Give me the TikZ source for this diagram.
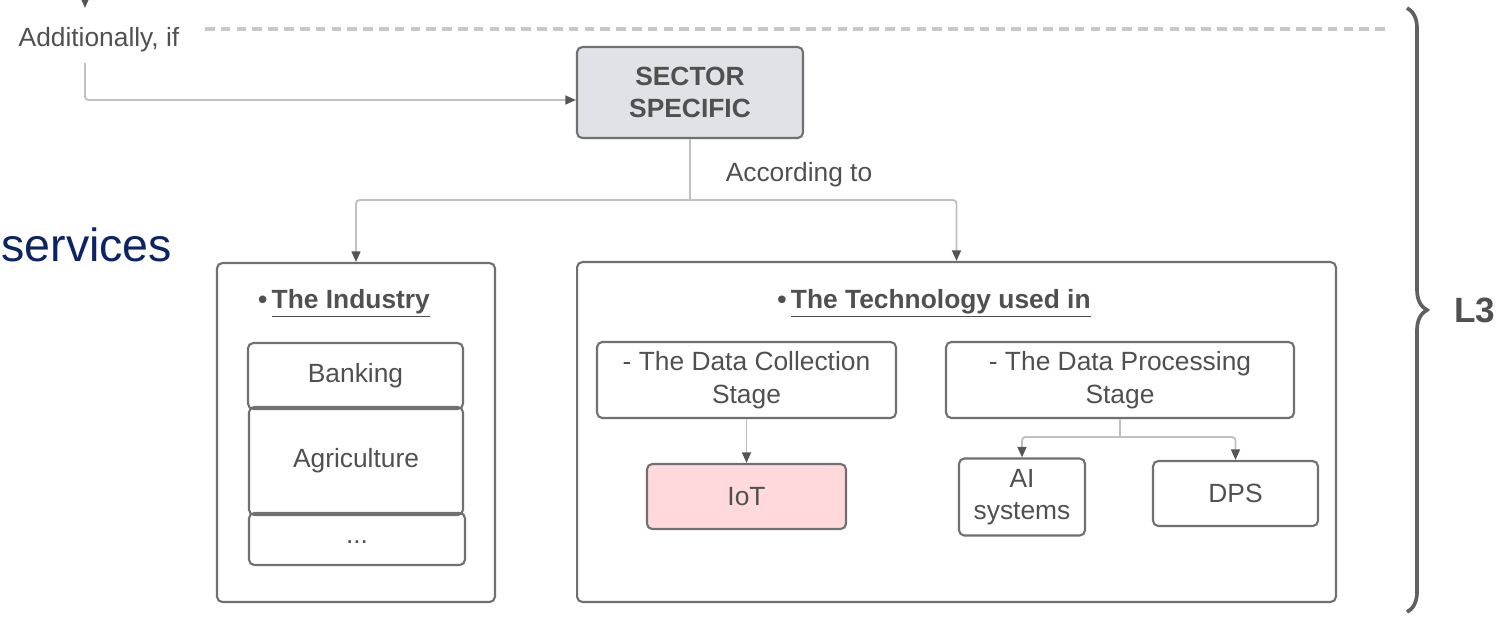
\documentclass[tikz,border=0pt]{standalone}
\usepackage{fontspec}
\setmainfont{Liberation Sans}
\usetikzlibrary{
    arrows.meta,
    positioning,
    decorations.pathreplacing
}
\definecolor{boxgray}{RGB}{112, 112, 112}
\definecolor{bracegray}{RGB}{96, 96, 96}
\definecolor{linegray}{RGB}{192, 192, 192}
\definecolor{dashgray}{RGB}{200, 200, 200}
\definecolor{tipgray}{RGB}{85, 85, 85}
\definecolor{textgray}{RGB}{80, 80, 80}
\definecolor{sectorfill}{RGB}{224, 226, 231}
\definecolor{iotpink}{RGB}{255, 217, 219}
\definecolor{servicesblue}{RGB}{12, 36, 100}

\begin{document}
\begin{tikzpicture}[
        x=0.02cm, y=-0.02cm,
        box/.style={rectangle, draw=boxgray, line width=1.2pt, rounded corners=3pt, fill=white, align=center, text=textgray, font=\fontsize{15}{18.5}\selectfont, inner sep=2pt},
        note/.style={text=textgray, font=\fontsize{15}{18}\selectfont, inner sep=0pt},
        heading/.style={text=textgray, font=\bfseries\fontsize{15}{18}\selectfont, inner sep=0pt},
        line/.style={draw=linegray, line width=1.1pt, rounded corners=2pt},
        arrow/.style={line, -{Triangle[length=6pt, width=5pt, color=tipgray]}},
        dashline/.style={draw=dashgray, line width=2pt, dash pattern=on 5.5pt off 3.5pt},
        brace/.style={draw=bracegray, line width=2.1pt, decorate, decoration={brace, amplitude=0.4cm}}
    ]
        \useasboundingbox (0,0) rectangle (1506,616);

        % Top: condition
        \node[note] (addl) at (99,40) {Additionally, if};
        \node[anchor=west, inner sep=0pt, text=servicesblue, font=\fontsize{26.5}{30}\selectfont] (services) at (1,245) {services};
        \node[box, fill=sectorfill, font=\bfseries\fontsize{15}{18}\selectfont, minimum width=4.52cm, minimum height=1.82cm] (sector) at (690,92.5) {SECTOR\\SPECIFIC};
        \node[note] (according) at (799,175) {According to};

        % Left: industry
        \node[box, minimum width=5.56cm, minimum height=6.78cm] (industry) at (356,432.5) {};
        \node[heading] (indtitle) at (344,303) {\textbullet\,\underline{The Industry}};
        \node[box, minimum width=4.32cm, minimum height=1.04cm] (others) at (357,539) {\smash{\raisebox{-2.5pt}{...}}};
        \node[box, minimum width=4.3cm, minimum height=1.32cm] (banking) at (355.5,376) {Banking};
        \node[box, minimum width=4.28cm, minimum height=2.16cm, fill=none] (agri) at (356,461) {Agriculture};

        % Right: technology
        \node[box, minimum width=15.18cm, minimum height=6.8cm] (tech) at (956.5,432) {};
        \node[heading] (techtitle) at (934,303) {\textbullet\,\underline{The Technology used in}};
        \node[box, minimum width=5.98cm, minimum height=1.52cm] (collect) at (746.5,380) {- The Data Collection\\Stage};
        \node[box, minimum width=6.96cm, minimum height=1.52cm] (process) at (1120,380) {- The Data Processing\\Stage};
        \node[box, fill=iotpink, minimum width=3.98cm, minimum height=1.3cm] (iot) at (746.5,496.5) {IoT};
        \node[box, minimum width=2.52cm, minimum height=1.54cm] (ai) at (1022,497) {AI\\systems};
        \node[box, minimum width=3.3cm, minimum height=1.3cm] (dps) at (1235.5,493.5) {DPS};

        % Level brace
        \coordinate (btop) at (1407,8);
        \coordinate (bbot) at (1407,612);
        \node[heading, font=\bfseries\fontsize{20}{24}\selectfont] (level) at (1475,310) {L3};

        % Arrows
        \coordinate (topin) at (85,-20);
        \coordinate (topout) at (85,8);
        \coordinate (split) at (85,63);
        \coordinate (dash0) at (205,29);
        \coordinate (dash1) at (1385,29);
        \coordinate (fork) at (690,200);
        \coordinate (pfork) at (1120,437);
        \draw[arrow] (topin) -- (topout);
        \draw[dashline] (dash0) -- (dash1);
        \draw[arrow] (split) |- ([yshift=-0.15cm]sector.west);
        \draw[line] (sector) -- (fork);
        \draw[arrow] (fork) -| (industry);
        \draw[arrow] (fork) -| (tech);
        \draw[arrow] (collect) -- (iot);
        \draw[line] (process) -- (pfork);
        \draw[arrow] (pfork) -| (ai);
        \draw[arrow] (pfork) -| (dps);
        \draw[brace] (btop) -- (bbot);
    \end{tikzpicture}
\end{document}
